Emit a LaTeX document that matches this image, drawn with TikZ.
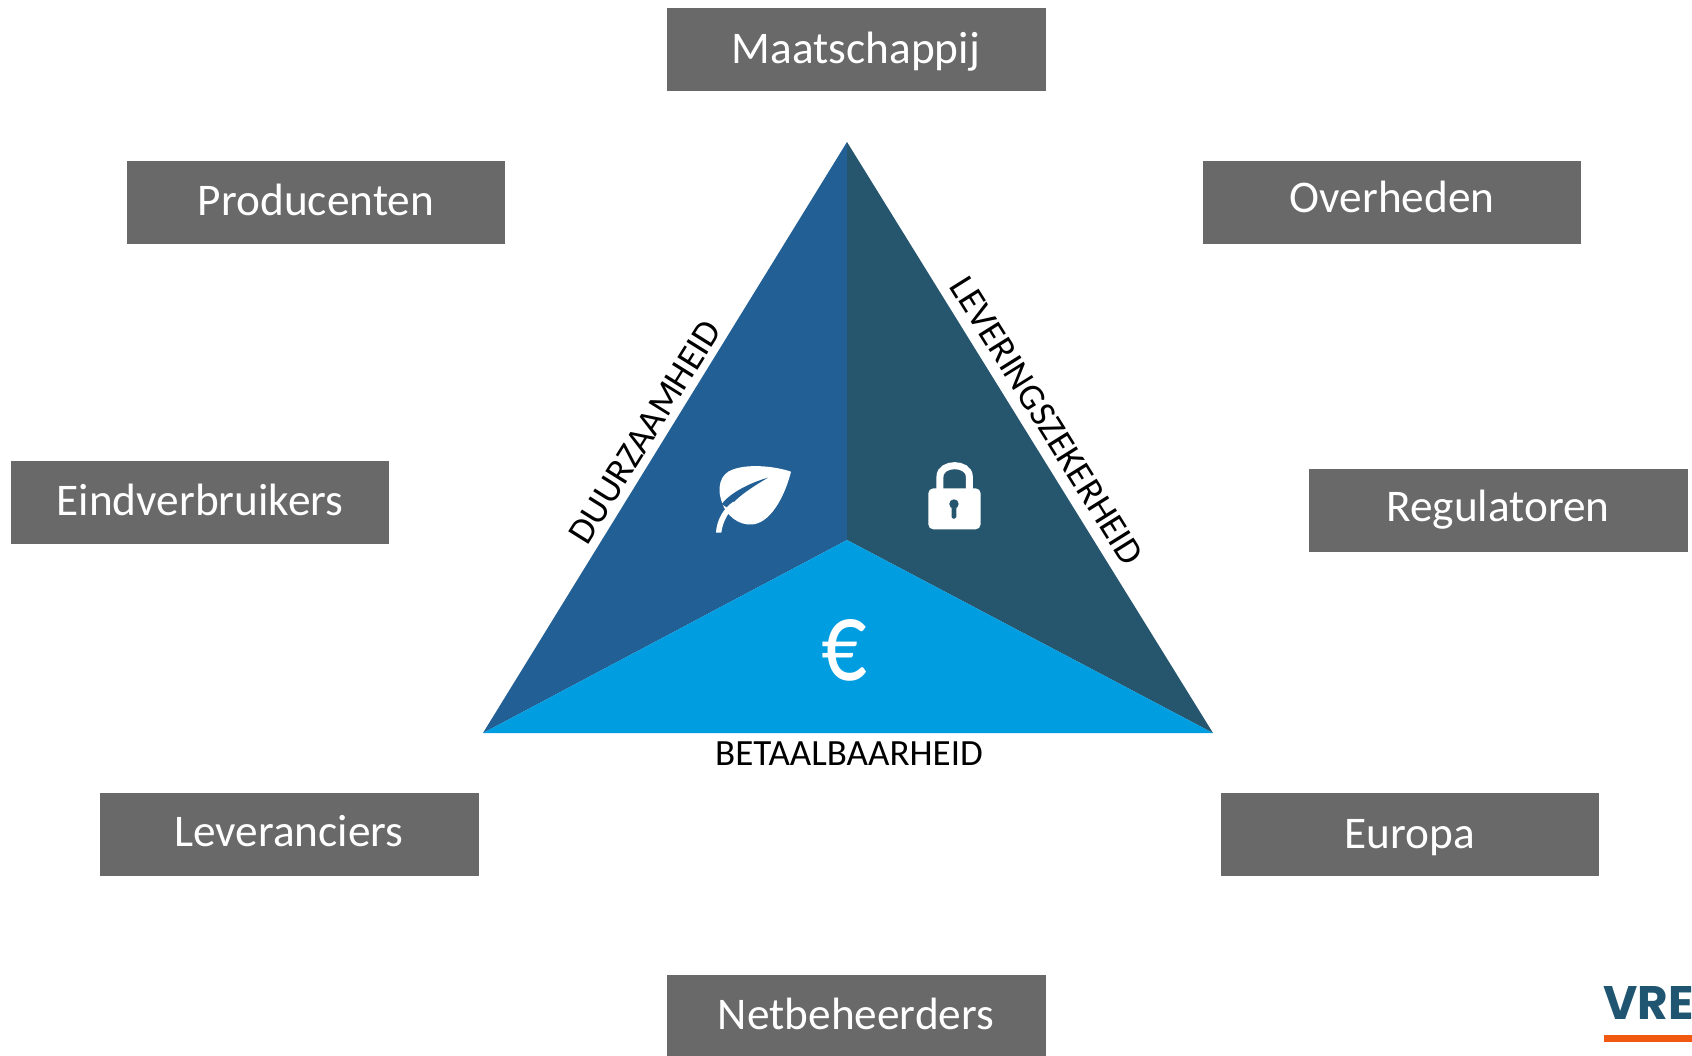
\documentclass[tikz,border=0pt]{standalone}
\usepackage{fontspec}
\setmainfont{Carlito}
\newfontfamily\logofont{Poppins}
\definecolor{boxgrey}{HTML}{696969}
\definecolor{leftblue}{HTML}{215F94}
\definecolor{rightblue}{HTML}{26566E}
\definecolor{lightblue}{HTML}{009EE0}
\definecolor{logoblue}{HTML}{1F5570}
\definecolor{logoorange}{HTML}{F0590F}
\tikzset{
  x=1pt,y=-1pt,
  boxshape/.style={fill=boxgrey,draw=none,minimum width=378.5pt,minimum height=83pt,inner sep=0pt,anchor=center},
  boxlabel/.style={text=white,anchor=base,inner sep=0pt,font=\fontsize{45.3}{45.3}\selectfont},
  sidelabel/.style={text=black,anchor=center,inner sep=0pt,font=\fontsize{37}{37}\selectfont},
  icon/.style={fill=white,draw=none},
}
\begin{document}
\begin{tikzpicture}
\useasboundingbox (0,0) rectangle (1692,1055);
\fill[white] (0,0) rectangle (1692,1055);
% triangle
\coordinate (apex) at (847,142);
\coordinate (lft) at (483,733);
\coordinate (rgt) at (1213,733);
\coordinate (mid) at (847,540);
\fill[leftblue] (apex) -- (mid) -- (lft) -- cycle;
\fill[rightblue] (apex) -- (rgt) -- (mid) -- cycle;
\fill[lightblue] (mid) -- (rgt) -- (lft) -- cycle;
% boxes
\begin{scope}
\clip (0,0) rectangle (1692,1055);
\node[boxshape] (maat) at (856.5,49.5) {};
\node[boxshape] (prod) at (316,202.5) {};
\node[boxshape] (over) at (1392,202.5) {};
\node[boxshape] (eind) at (200,502) {};
\node[boxshape] (regu) at (1498.5,510) {};
\node[boxshape] (leve) at (289.5,834.5) {};
\node[boxshape] (euro) at (1410,834.5) {};
\node[boxshape] (netb) at (856.5,1016) {};
\end{scope}
\node[boxlabel] (maatT) at (856,63) {Maatschappij};
\node[boxlabel] (prodT) at (316,215) {Producenten};
\node[boxlabel] (overT) at (1392,212) {Overheden};
\node[boxlabel] (eindT) at (200,515) {Eindverbruikers};
\node[boxlabel] (reguT) at (1498,521) {Regulatoren};
\node[boxlabel] (leveT) at (289,846) {Leveranciers};
\node[boxlabel] (euroT) at (1410,848) {Europa};
\node[boxlabel] (netbT) at (856,1029) {Netbeheerders};
% side labels
\node[sidelabel,rotate=58] (duur) at (645,432) {DUURZAAMHEID};
\node[sidelabel,rotate=-58] (levz) at (1047,421) {LEVERINGSZEKERHEID};
\node[sidelabel] (beta) at (849,754) {BETAALBAARHEID};
% euro
\node[text=white,inner sep=0pt,font=\fontsize{82}{82}\selectfont,xscale=1.1,yscale=1.4,transform shape] (eur) at (844,650) {€};
% leaf
\begin{scope}[shift={(680,430)},x=0.3333pt,y=-0.3333pt]
\fill[icon] (333,125) .. controls (290,110) and (210,100) .. (160,118)
  .. controls (120,130) and (108,175) .. (128,222)
  .. controls (135,250) and (175,290) .. (220,283)
  .. controls (280,275) and (320,180) .. (333,125) -- cycle;
\fill[leftblue] (264,143) .. controls (205,160) and (150,190) .. (125,222)
  -- (146,236) .. controls (165,205) and (210,175) .. (264,143) -- cycle;
\fill[icon] (108,308) .. controls (110,270) and (130,235) .. (160,215)
  -- (168,224) .. controls (145,245) and (128,275) .. (124,308) -- cycle;
% lock
\fill[icon,rounded corners=5pt] (745,175) rectangle (902,298);
\draw[white,line width=7pt] (780,178) -- (780,140) .. controls (780,96) and (868,96) .. (868,140) -- (868,178);
\fill[rightblue] (822,222) circle[radius=4.7pt];
\fill[rightblue,rounded corners=1.5pt] (815,222) rectangle (829,266);
\end{scope}
% logo
\begin{scope}
\clip (0,0) rectangle (1692,1055);
\node[anchor=base west,inner sep=0pt,text=logoblue,font=\logofont\fontsize{47}{47}\selectfont\bfseries] (logo) at (1603,1019) {VRE};
\fill[logoorange] (1604,1035) rectangle (1692,1042);
\end{scope}
\end{tikzpicture}
\end{document}
